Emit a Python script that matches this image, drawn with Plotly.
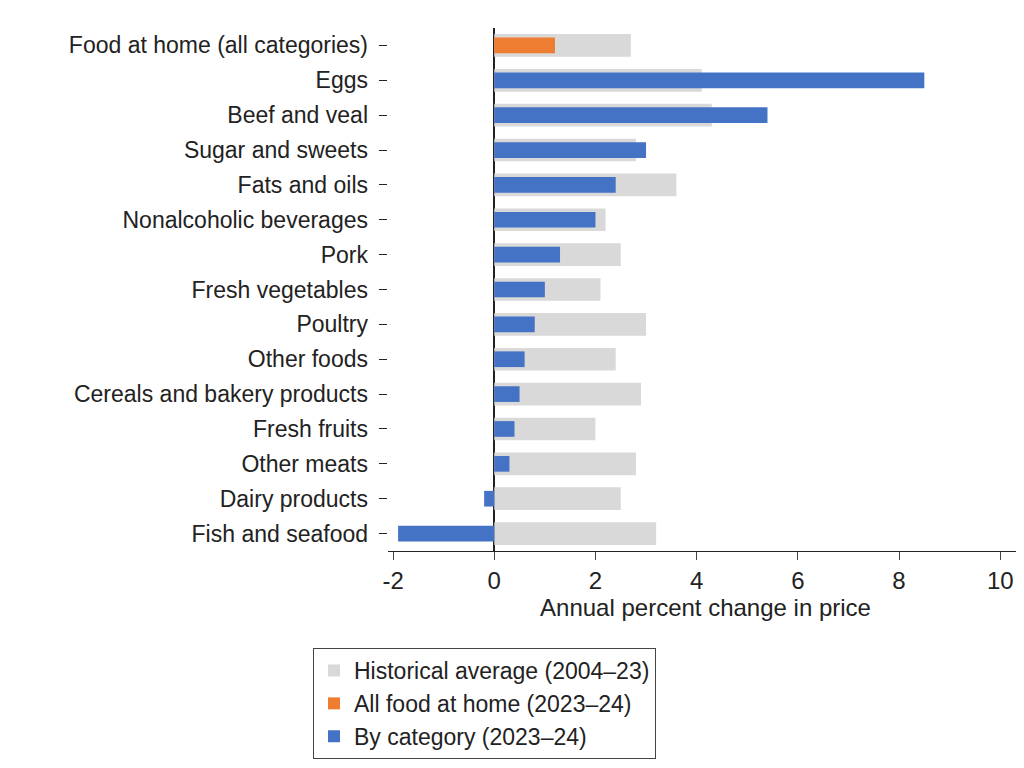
import plotly.graph_objects as go

categories = ["Food at home (all categories)", "Eggs", "Beef and veal", "Sugar and sweets",
              "Fats and oils", "Nonalcoholic beverages", "Pork", "Fresh vegetables", "Poultry",
              "Other foods", "Cereals and bakery products", "Fresh fruits", "Other meats",
              "Dairy products", "Fish and seafood"]
historical = [2.7, 4.1, 4.3, 2.8, 3.6, 2.2, 2.5, 2.1, 3.0, 2.4, 2.9, 2.0, 2.8, 2.5, 3.2]
current = [1.2, 8.5, 5.4, 3.0, 2.4, 2.0, 1.3, 1.0, 0.8, 0.6, 0.5, 0.4, 0.3, -0.2, -1.9]

fig = go.Figure()
fig.add_trace(go.Bar(y=categories, x=historical, orientation="h", width=0.65,
                     marker=dict(color="#d9d9d9", line_width=0), name="Historical average (2004–23)"))
fig.add_trace(go.Bar(y=categories[:1], x=current[:1], orientation="h", width=0.45,
                     marker=dict(color="#ed7d31", line_width=0), name="All food at home (2023–24)"))
fig.add_trace(go.Bar(y=categories[1:], x=current[1:], orientation="h", width=0.45,
                     marker=dict(color="#4472c4", line_width=0), name="By category (2023–24)"))

fig.update_layout(
    barmode="overlay", width=1024, height=768, plot_bgcolor="white", paper_bgcolor="white",
    margin=dict(l=380, r=9, t=20, b=225, autoexpand=False),
    font=dict(family="Liberation Sans, Arial", size=23, color="#222"),
    legend=dict(orientation="v", xref="container", yref="container",
                x=305/1024, xanchor="left", y=1-640/768, yanchor="top",
                bordercolor="#444", borderwidth=1, font=dict(size=23),
                traceorder="normal", itemwidth=30, tracegroupgap=0),
    showlegend=True,
)
fig.update_xaxes(range=[-2.1, 10.45], tickvals=[-2, 0, 2, 4, 6, 8, 10],
                 ticktext=["-2", "0", "2", "4", "6", "8", "10"], ticks="outside",
                 ticklen=8, showline=True, linecolor="#222", showgrid=False,
                 zeroline=True, zerolinecolor="#222", zerolinewidth=1.5,
                 tickfont=dict(size=24),
                 title=dict(text="Annual percent change in price", standoff=4, font=dict(size=24)))
fig.update_yaxes(ticks="outside", ticklen=8, tickcolor="#222",
                 showline=False, showgrid=False, ticksuffix=" ", range=[14.5, -0.5])
fig.write_html("out.html")
